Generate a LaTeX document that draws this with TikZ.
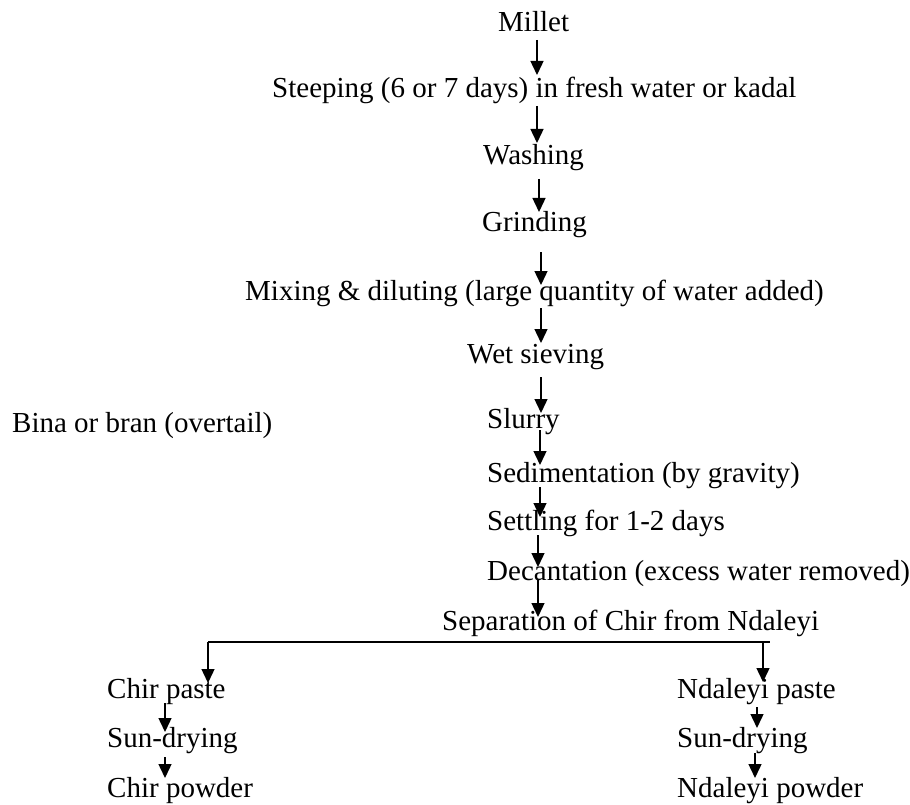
\documentclass[tikz,border=0pt]{standalone}
\usepackage{fontspec}
\setmainfont{Liberation Serif}
\usetikzlibrary{arrows.meta,calc}
\newcommand\varr[5]{\draw[arr] ($(#2.base -| #1,0)+(0,#3pt)$) -- ($(#4.base -| #1,0)+(0,#5pt)$);}
\begin{document}
\begin{tikzpicture}[x=1pt,y=-1pt,
  txt/.style={anchor=base west, inner sep=0pt, font=\fontsize{29}{34}\selectfont},
  arr/.style={line width=1.4pt, -{Triangle[width=13pt,length=14pt]}},
  ln/.style={line width=1.4pt}]
\useasboundingbox (0,0) rectangle (910,805);
\node[txt] (millet) at (498,32) {Millet};
\node[txt] (steep) at (272,98) {Steeping (6 or 7 days) in fresh water or kadal};
\node[txt] (wash) at (483,165) {Washing};
\node[txt] (grind) at (482,232) {Grinding};
\node[txt] (mix) at (245,300) {Mixing \& diluting (large quantity of water added)};
\node[txt] (wet) at (467,363) {Wet sieving};
\node[txt] (slurry) at (487,428) {Slurry};
\node[txt] (bina) at (12,432) {Bina or bran (overtail)};
\node[txt] (sed) at (487,482) {Sedimentation (by gravity)};
\node[txt] (set) at (487,530) {Settling for 1-2 days};
\node[txt] (dec) at (487,580) {Decantation (excess water removed)};
\node[txt] (sep) at (442,630) {Separation of Chir from Ndaleyi};
\node[txt] (chirp) at (107,698) {Chir paste};
\node[txt] (sunl) at (107,747) {Sun-drying};
\node[txt] (chirpow) at (107,797) {Chir powder};
\node[txt] (ndp) at (677,698) {Ndaleyi paste};
\node[txt] (sunr) at (677,747) {Sun-drying};
\node[txt] (ndpow) at (677,797) {Ndaleyi powder};
\varr{537}{millet}{-8}{steep}{23}
\varr{537}{steep}{-8}{wash}{22}
\varr{539}{wash}{-14}{grind}{20}
\varr{541}{grind}{-20}{mix}{15}
\varr{541}{mix}{-8}{wet}{20}
\varr{541}{wet}{-14}{slurry}{15}
\varr{540}{slurry}{-2}{sed}{17}
\varr{540}{sed}{-5}{set}{13}
\varr{538}{set}{-5}{dec}{13}
\varr{538}{dec}{0}{sep}{13}
\coordinate (bl) at ($(sep.base -| 208,0)+(0,-12pt)$);
\coordinate (br) at ($(sep.base -| 770,0)+(0,-12pt)$);
\coordinate (bm) at ($(sep.base -| 763,0)+(0,-12pt)$);
\draw[ln] (bl) -- (br);
\draw[arr] (bl) -- ($(chirp.base -| bl)+(0,15pt)$);
\draw[arr] (bm) -- ($(ndp.base -| bm)+(0,16pt)$);
\varr{165}{chirp}{-5}{sunl}{15}
\varr{165}{sunl}{-10}{chirpow}{19}
\varr{757}{ndp}{-9}{sunr}{19}
\varr{755}{sunr}{-6}{ndpow}{19}
\end{tikzpicture}
\end{document}
